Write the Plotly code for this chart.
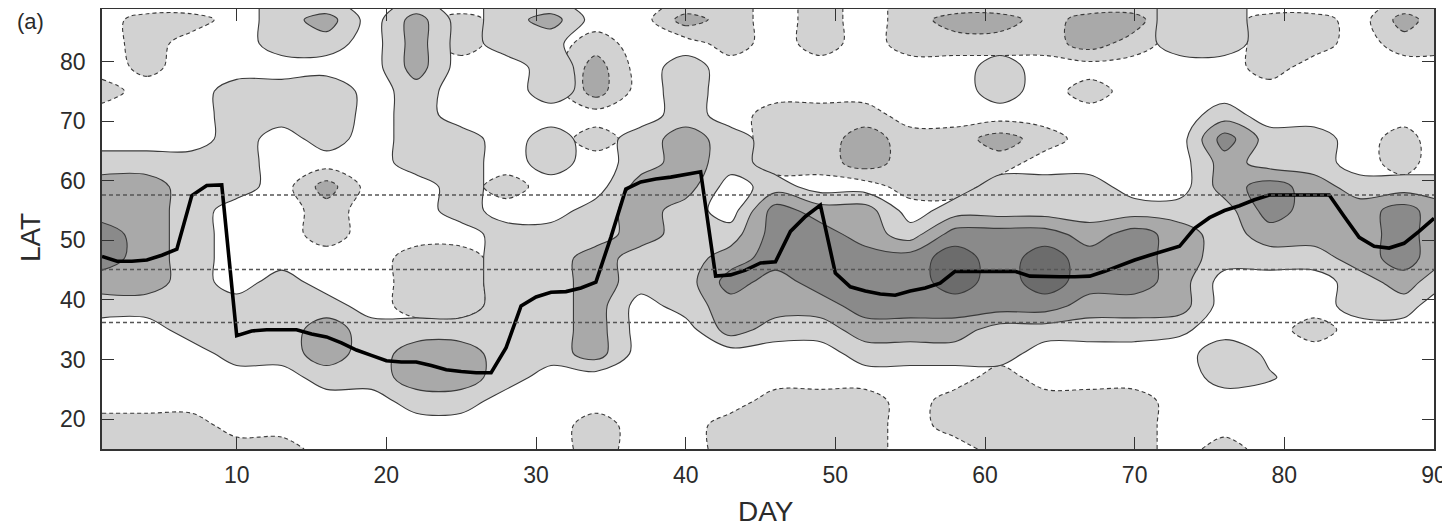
import numpy as np
import plotly.graph_objects as go

# ---------------- data ----------------
days_grid = [1, 4, 7, 10, 13, 16, 19, 22, 25, 28, 31, 34, 37, 40, 43, 46, 49, 52, 55, 58,
             61, 64, 67, 70, 73, 76, 79, 82, 85, 88, 90]
lats_grid = [15, 19, 23, 27, 31, 35, 39, 43, 47, 51, 55, 59, 63, 67, 71, 75, 79, 83, 87, 89]

# shading level (positive = solid contours, negative = dashed contours)
row_lat15 = [-1,-1,-1,-1,-1,0,0,0,0,0,0,-1,0,0,-1,-1,-1,-1,0,0,-1,-1,-1,-1,0,-1,0,0,0,0,0]
row_lat19 = [-1,-1,-1,0,0,0,0,0,0,0,0,-1,0,0,-1,-1,-1,-1,0,-1,-1,-1,-1,-1,0,0,0,0,0,0,0]
row_lat23 = [0,0,0,0,0,0,0,1,1,0,0,0,0,0,0,-1,-1,-1,0,-1,-1,-1,-1,-1,0,0,0,0,0,0,0]
row_lat27 = [0,0,0,0,0,1,1,2,2,1,0,0,0,0,0,0,0,0,0,0,-1,0,0,0,0,0.9,0.6,0,0,0,0]
row_lat31 = [0,0,0,1,1,2,1,2,2,1,1,2,0,0,0,0,0,1,1,1,1,0,0,0,0,1.2,0.3,0,0,0,0]
row_lat35 = [0,0,1,1,1,2,1,1,1,1,1,2,0,0,2,1,1,2,2,2,1,1,1,1,0.7,0,0,-1,0,0,0]
row_lat39 = [1,1,1,1,1,1,0,-1,-1,1,1,2,0,1,2,2,2,3,3,3,3,3,2,2,2,0,0,0,1,1,0]
row_lat43 = [2,2,1,0,1,0,0,-1,-1,1,1,2,1,1,3,2,3,3,3,4,3,4,3,3,2,0,0,0,1,2,1]
row_lat47 = [3,2,1,0,0,0,0,-1,-1,1,1,2,1,1,2,3,3,3,3,4,3,4,3,3,2,1,1,1,2,3,2]
row_lat51 = [3,2,1,0,0,-1,0,0,0,1,1,1,2,1,1,3,3,2,1,3,3,3,2,3,2,1,2,2,2,3,2]
row_lat55 = [2,2,1,0,0,-1,0,0,1,0,0,1,2,1,0,3,2,2,0,1,1,1,1,1,1,1,3,2,2,3,2]
row_lat59 = [2,2,1,1,0,-2,0,0,1,-1,0,0,2,2,0,1,0,0,-1,-1,1,1,1,0,0,2,3,2,1,1,1]
row_lat63 = [1,1,1,1,0,0,0,1,1,0,1,0,1,2,1,-1,-1,-2,-1,-1,-1,0,0,0,0,2,1,1,0,-1,0]
row_lat67 = [0,0,0,1,0,1,0,1,1,0,1,-1,1,2,1,-1,-1,-2,-1,-1,-2,-1,0,0,0,3,1,1,0,-1,0]
row_lat71 = [0,0,0,1,1,1.4,0,1,0,0,0,0,0,1,0,-1,-1,-1,0,0,0,0,0,0,0,1,0,0,0,0,0]
row_lat75 = [-1,0,0,1,1,1.4,0,1,0,0,1,-2,0,1,0,0,0,0,0,0,1,0,-1,0,0,0,0,0,0,0,0]
row_lat79 = [0,-0.8,0,0,0,0,0,2,0,0,1,-2,0,1,0,0,0,0,0,0,1,0,0,0,0,0,-1,0,0,0,0]
row_lat83 = [0,-1,0,0,1,1,0,2,-1,1,0.7,-1,0,0,-1,0,-1,0,-1,-1,-1,-1,-2,-1,1,1,-1,-1,0,-1,-1]
row_lat87 = [0,-1,-1,0,1,2,0,2,-1,1,2,0,0,-2,-1,0,-1,0,-1,-2,-2,-1,-2,-2,1,1,-1,-1,0,-2,-1]
row_lat89 = [0,0,0,0,1,1,0,1,0,1,1,0,0,-1,-1,0,-1,0,-1,-1,-1,-1,-1,-1,1,1,0,0,0,-1,-1]

jet_days = list(range(1, 91))
jet_lat = [47.3, 46.5, 46.5, 46.7, 47.5, 48.5, 57.5, 59.2, 59.3, 34.0,
           34.8, 35.0, 35.0, 35.0, 34.3, 33.8, 32.8, 31.6, 30.7, 29.8,
           29.6, 29.6, 29.0, 28.3, 28.0, 27.8, 27.8, 32.0, 39.0, 40.5,
           41.3, 41.4, 42.0, 43.0, 50.5, 58.6, 59.8, 60.3, 60.6, 61.0,
           61.5, 44.0, 44.2, 45.0, 46.2, 46.4, 51.5, 54.0, 55.9, 44.5,
           42.2, 41.5, 41.0, 40.8, 41.5, 42.0, 42.8, 44.8, 44.8, 44.8,
           44.8, 44.8, 44.0, 43.9, 43.9, 43.9, 44.0, 44.8, 45.8, 46.7,
           47.5, 48.3, 49.0, 52.0, 53.8, 55.0, 55.8, 56.8, 57.6, 57.6,
           57.6, 57.6, 57.6, 54.0, 50.5, 49.0, 48.7, 49.5, 51.5, 53.7]

ref_lats = [57.6, 45.1, 36.2]
x_ticks = [10, 20, 30, 40, 50, 60, 70, 80, 90]
y_ticks = [20, 30, 40, 50, 60, 70, 80]

# ---------------- build ----------------
rows = [row_lat15, row_lat19, row_lat23, row_lat27, row_lat31, row_lat35, row_lat39,
        row_lat43, row_lat47, row_lat51, row_lat55, row_lat59, row_lat63, row_lat67,
        row_lat71, row_lat75, row_lat79, row_lat83, row_lat87, row_lat89]
F = np.array(rows, dtype=float)
pos = np.clip(F, 0, None)
neg = np.clip(-F, 0, None)

TRANSP = 'rgba(255,255,255,0)'
LIGHT, MED, DARK, DARKEST = '#d2d2d2', '#a9a9a9', '#8a8a8a', '#6c6c6c'
cscale = [[0.0, TRANSP], [0.1, TRANSP], [0.1, LIGHT], [0.35, LIGHT], [0.35, MED],
          [0.6, MED], [0.6, DARK], [0.85, DARK], [0.85, DARKEST], [1.0, DARKEST]]


def shade(z, dash):
    return go.Contour(
        x=days_grid, y=lats_grid, z=z, zmin=0, zmax=4, zauto=False,
        autocontour=False,
        contours=dict(start=0.5, end=3.5, size=1, coloring='fill'),
        colorscale=cscale, showscale=False,
        line=dict(color='#3a3a3a', width=1.1, dash=dash, smoothing=1.0),
        hoverinfo='skip')


fig = go.Figure()
fig.add_trace(shade(neg, '4px,3px'))
fig.add_trace(shade(pos, 'solid'))
fig.add_trace(go.Scatter(x=jet_days, y=jet_lat, mode='lines',
                         line=dict(color='black', width=3.6), hoverinfo='skip'))

for lat in ref_lats:
    fig.add_shape(type='line', xref='paper', x0=0, x1=1, yref='y', y0=lat, y1=lat,
                  line=dict(color='#555555', width=1.5, dash='4px,3px'))

FONT = 'Liberation Sans, Arial, Helvetica, sans-serif'
axis_common = dict(showgrid=False, zeroline=False, showline=True, linecolor='#333333',
                   linewidth=1.5, mirror='ticks', ticks='inside', ticklen=12,
                   tickwidth=1.3, tickcolor='#333333', automargin=False,
                   tickfont=dict(family=FONT, size=23, color='#2b2b2b'))

ann_common = dict(xref='paper', yref='paper', showarrow=False,
                  xanchor='center', yanchor='middle')

# the page adds an 8px body margin, so the figure is sized 1442x518
fig.update_layout(
    width=1442, height=518,
    margin=dict(l=94, r=16, t=1, b=77),
    paper_bgcolor='white', plot_bgcolor='white',
    showlegend=False,
    xaxis=dict(range=[1, 90], tickvals=x_ticks, ticklabelstandoff=5, **axis_common),
    yaxis=dict(range=[15, 88.8], tickvals=y_ticks, ticklabelstandoff=10, **axis_common),
    annotations=[
        dict(text='(a)', x=-0.054, y=0.9727,
             font=dict(family=FONT, size=22, color='#2b2b2b'), **ann_common),
        dict(text='LAT', x=-0.054, y=0.4795, textangle=-90,
             font=dict(family=FONT, size=28, color='#2b2b2b'), **ann_common),
        dict(text='DAY', x=0.4985, y=-0.141,
             font=dict(family=FONT, size=28, color='#2b2b2b'), **ann_common),
    ],
)

fig.write_html('out.html')
